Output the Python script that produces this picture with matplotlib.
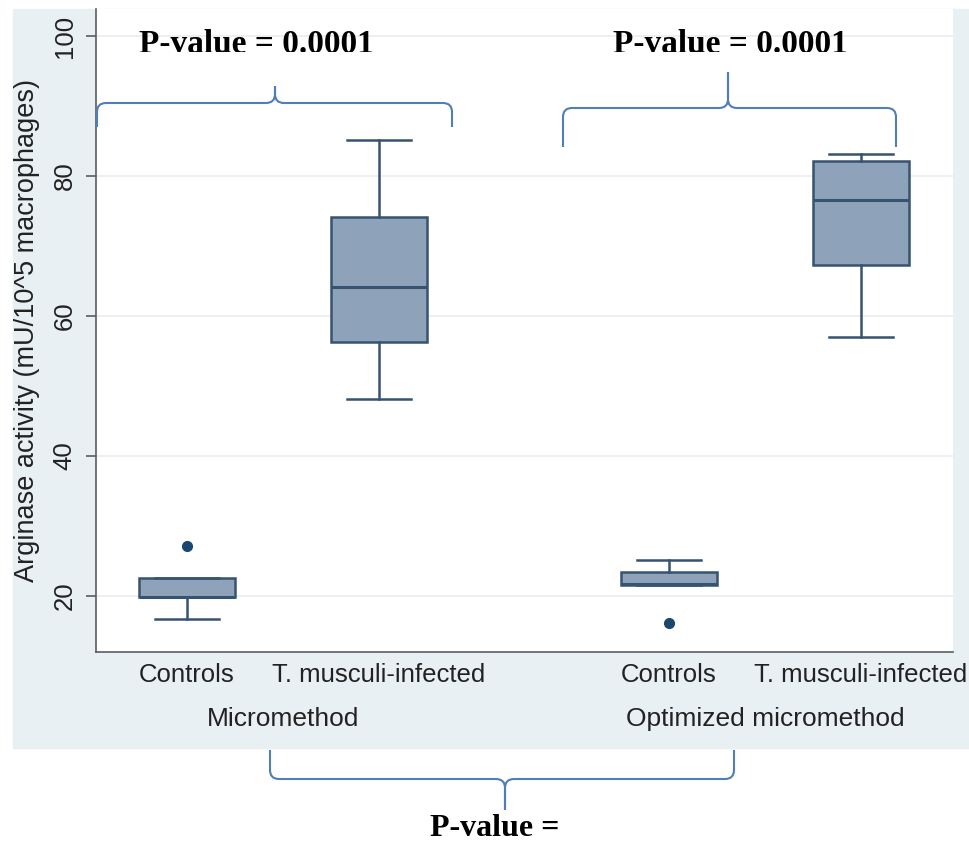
import matplotlib
matplotlib.use("Agg")
import matplotlib.pyplot as plt
from matplotlib.path import Path
from matplotlib.patches import PathPatch, Rectangle
from matplotlib.transforms import Bbox, TransformedBbox

W, H = 969, 848

methods = ["Micromethod", "Optimized micromethod"]
groups = ["Controls", "T. musculi-infected"]

# box summaries (controls / infected, per method)
lo_whisker = [16.7, 48.1, 21.6, 57.0]
q1 = [19.8, 56.3, 21.6, 67.3]
median = [19.9, 64.1, 21.7, 76.6]
q3 = [22.6, 74.1, 23.4, 82.1]
hi_whisker = [22.6, 85.1, 25.1, 83.1]
outliers = [[27.2], [], [16.1], []]

p_top = ["P-value = 0.0001", "P-value = 0.0001"]
p_bottom = "P-value ="
yticks = [20, 40, 60, 80, 100]

box_fill = "#8ea3ba"
box_edge = "#36536f"
dot_col = "#1a476f"
brace_col = "#4f7fb6"
bg_col = "#e9f0f4"
txt_col = "#222222"

plt.rcParams['font.family'] = ['Liberation Sans', 'DejaVu Sans']


def px(x, y):
    # pixel position (y downwards) -> figure fraction
    return (x / W, 1 - y / H)


def brace(x0, x1, xm, y_tip, y_bar, y_peak, r=9):
    d = 1 if y_tip > y_bar else -1
    pts = [(x0, y_tip), (x0, y_bar + d * r), (x0, y_bar), (x0 + r, y_bar),
           (xm - r, y_bar), (xm, y_bar), (xm, y_bar - d * r), (xm, y_peak),
           (xm, y_peak), (xm, y_bar - d * r), (xm, y_bar), (xm + r, y_bar),
           (x1 - r, y_bar), (x1, y_bar), (x1, y_bar + d * r), (x1, y_tip)]
    codes = [Path.MOVETO, Path.LINETO, Path.CURVE3, Path.CURVE3,
             Path.LINETO, Path.CURVE3, Path.CURVE3, Path.LINETO,
             Path.MOVETO, Path.LINETO, Path.CURVE3, Path.CURVE3,
             Path.LINETO, Path.CURVE3, Path.CURVE3, Path.LINETO]
    verts = [px(a, b) for a, b in pts]
    return PathPatch(Path(verts, codes), transform=fig.transFigure, fill=False,
                     edgecolor=brace_col, lw=1.5, zorder=3)


fig = plt.figure(figsize=(W / 100, H / 100), dpi=100)
fig.patch.set_facecolor("white")
fig.patches.append(Rectangle(px(13, 748), 1 - 13 / W, (748 - 9) / H,
                             transform=fig.transFigure, color=bg_col, zorder=-1))

ax = fig.add_axes([96 / W, 1 - 652 / H, 857 / W, 643 / H])
ax.set_facecolor("white")

pos = [1, 2, 3.51, 4.51]
stats = []
for i in range(4):
    stats.append(dict(label=groups[i % 2], whislo=lo_whisker[i], q1=q1[i],
                      med=median[i], q3=q3[i], whishi=hi_whisker[i],
                      fliers=outliers[i]))

ax.bxp(stats, positions=pos, widths=0.5, capwidths=0.333, patch_artist=True,
       boxprops=dict(facecolor=box_fill, edgecolor=box_edge, linewidth=1.8),
       medianprops=dict(color=box_edge, linewidth=2.2),
       whiskerprops=dict(color=box_edge, linewidth=1.8),
       capprops=dict(color=box_edge, linewidth=1.8),
       flierprops=dict(marker="o", markerfacecolor=dot_col,
                       markeredgecolor=dot_col, markersize=7))

ax.set_xlim(0.526, 4.99)
ax.set_ylim(12.0, 103.86)
ax.set_yticks(yticks)
ax.yaxis.grid(True, color="#eaeff2", lw=1.3)
ax.set_axisbelow(True)
for s in ["top", "right"]:
    ax.spines[s].set_visible(False)
for s in ["left", "bottom"]:
    ax.spines[s].set_color("#5c5c5c")
    ax.spines[s].set_linewidth(1.2)

ax.set_xticks(pos)
ax.set_xticklabels(groups * 2, fontsize=18.5, color=txt_col)
ax.tick_params(axis="x", length=0, pad=8)
ax.tick_params(axis="y", length=7, width=1.2, color="#5c5c5c", pad=7,
               labelsize=18.5, labelcolor=txt_col)
for lbl in ax.get_yticklabels():
    lbl.set_rotation(90)
    lbl.set_va("center")

ax.set_ylabel("Arginase activity (mU/10^5 macrophages)", fontsize=19.5,
              color=txt_col, va="center")
ax.yaxis.set_label_coords(-0.08, 0.5)

for k in range(2):
    ax.text((pos[2 * k] + pos[2 * k + 1]) / 2, -0.104, methods[k],
            transform=ax.get_xaxis_transform(), ha="center", va="center",
            fontsize=19, color=txt_col)

# annotation braces
fig.patches.append(brace(97, 452, 275, 127, 103, 86))
fig.patches.append(brace(563, 896, 728, 147, 108, 72))
fig.patches.append(brace(270, 734, 505, 750, 779, 810))

# the top p-value labels are cut along their lower edge in the source
clip = TransformedBbox(Bbox([[0, 1 - 52 / H], [1, 1]]), fig.transFigure)
for xc, txt in zip([256, 730], p_top):
    t = fig.text(*px(xc, 29), txt, ha="center", va="top", fontsize=24,
                 fontweight="bold", family="Liberation Serif", zorder=4)
    t.set_clip_box(clip)
    t.set_clip_on(True)

fig.text(*px(495, 829), p_bottom, ha="center", va="center", fontsize=23,
         fontweight="bold", family="Liberation Serif")

fig.savefig("out.png", dpi=100)
